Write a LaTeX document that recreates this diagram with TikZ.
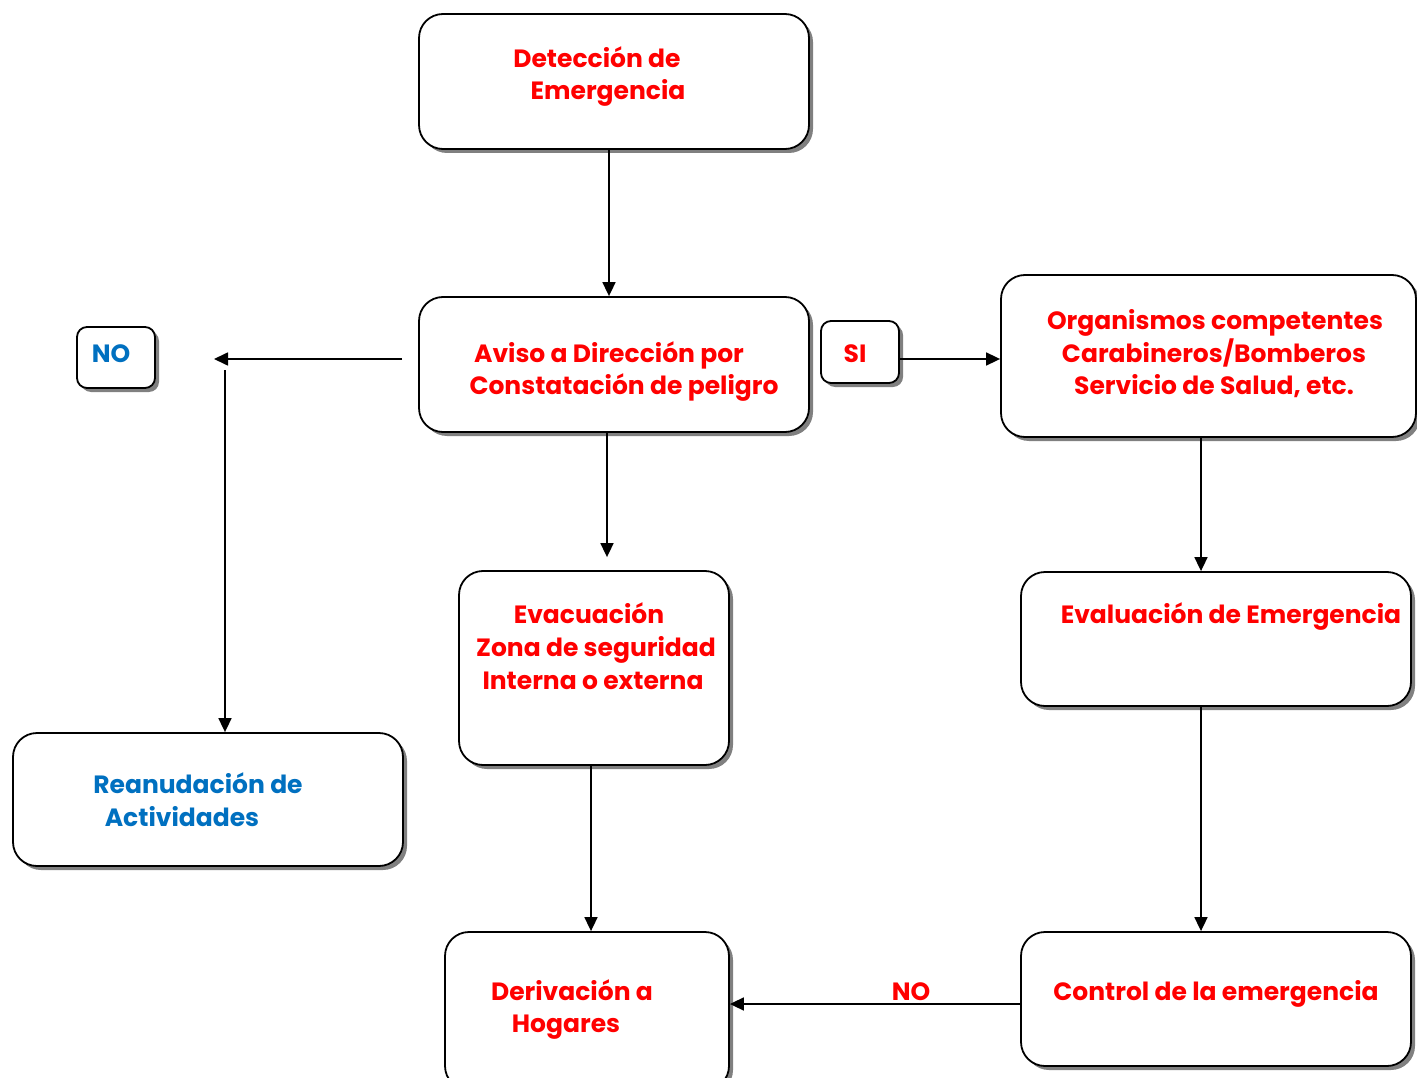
\documentclass[tikz,border=0pt]{standalone}
\usepackage{fontspec}
\setmainfont{Poppins}
\usetikzlibrary{arrows.meta,shadows}
\definecolor{rojo}{RGB}{255,0,0}
\definecolor{azul}{RGB}{0,112,192}
\begin{document}
\begin{tikzpicture}[x=1pt,y=-1pt,
  box/.style={draw=black, line width=1.8pt, rounded corners=24pt, fill=white,
    minimum width=#1, inner sep=0pt,
    drop shadow={shadow xshift=4pt, shadow yshift=-4pt, fill=black!50, opacity=1}},
  tag/.style={box=78pt, rounded corners=10pt},
  lbl/.style={font=\fontsize{25}{28}\selectfont\bfseries, text=rojo, inner sep=0pt, anchor=base},
  lblb/.style={lbl, text=azul},
  arr/.style={line width=1.7pt, -{Triangle[length=14pt,width=13pt]}}]
\useasboundingbox (0,0) rectangle (1417,1078);
\clip (0,0) rectangle (1417,1078);

% boxes
\node[box=390pt, minimum height=135pt] (det)   at (614,81.5) {};
\node[box=390pt, minimum height=135pt] (aviso) at (614,364.5) {};
\node[box=415pt, minimum height=162pt] (org)   at (1208.5,356) {};
\node[tag, minimum height=61pt] (no)  at (116,357.5) {};
\node[tag, minimum height=62pt] (si)  at (860,352) {};
\node[box=270pt, minimum height=194pt] (evac)  at (594,668) {};
\node[box=390pt, minimum height=134pt] (eval)  at (1216,639) {};
\node[box=390pt, minimum height=133pt] (rean)  at (208,799.5) {};
\node[box=284pt, minimum height=158pt] (deriv) at (587,1011) {};
\node[box=390pt, minimum height=134pt] (ctrl)  at (1216,999) {};

% texts (placed on their baselines)
\node[lbl] (det1) at (597,68) {Detección de};
\node[lbl] (det2) at (608,100) {Emergencia};
\node[lbl] (av1) at (609,362) {Aviso a Dirección por};
\node[lbl] (av2) at (624,394) {Constatación de peligro};
\node[lbl] (org1) at (1215,329) {Organismos competentes};
\node[lbl] (org2) at (1214,362) {Carabineros/Bomberos};
\node[lbl] (org3) at (1214,394) {Servicio de Salud, etc.};
\node[lblb] (not) at (111,362) {NO};
\node[lbl] (sit) at (855,362) {SI};
\node[lbl] (ev1) at (589,623) {Evacuación};
\node[lbl] (ev2) at (596,656) {Zona de seguridad};
\node[lbl] (ev3) at (593,689) {Interna o externa};
\node[lbl] (eva1) at (1231,623) {Evaluación de Emergencia};
\node[lblb] (re1) at (198,793) {Reanudación de};
\node[lblb] (re2) at (182,826) {Actividades};
\node[lbl] (de1) at (572,1000) {Derivación a};
\node[lbl] (de2) at (566,1032) {Hogares};
\node[lbl] (ct1) at (1216,1000) {Control de la emergencia};
\node[lbl] (nolbl) at (911,1000) {NO};

% connectors
\coordinate (lefttip) at (214,359);
\coordinate (downstart) at (225,370);
\draw[arr] ([xshift=-5pt]det.south) -- ([xshift=-5pt]aviso.north);
\draw[arr, shorten >=13pt] ([xshift=-7pt]aviso.south) -- ([xshift=-7pt]aviso.south |- evac.north);
\draw[arr, shorten <=16pt] ([yshift=5.5pt]aviso.west) -- (lefttip);
\draw[arr] (downstart) -- (downstart |- rean.north);
\draw[arr] ([yshift=-7pt]si.east) -- ([yshift=-7pt]si.east -| org.west);
\draw[arr] ([xshift=-7.5pt]org.south) -- ([xshift=-7.5pt]org.south |- eval.north);
\draw[arr] ([xshift=-15pt]eval.south) -- ([xshift=-15pt]eval.south |- ctrl.north);
\draw[arr] ([xshift=-3pt]evac.south) -- ([xshift=-3pt]evac.south |- deriv.north);
\draw[arr] ([yshift=-5pt]ctrl.west) -- ([yshift=-5pt]ctrl.west -| deriv.east);
\end{tikzpicture}
\end{document}
